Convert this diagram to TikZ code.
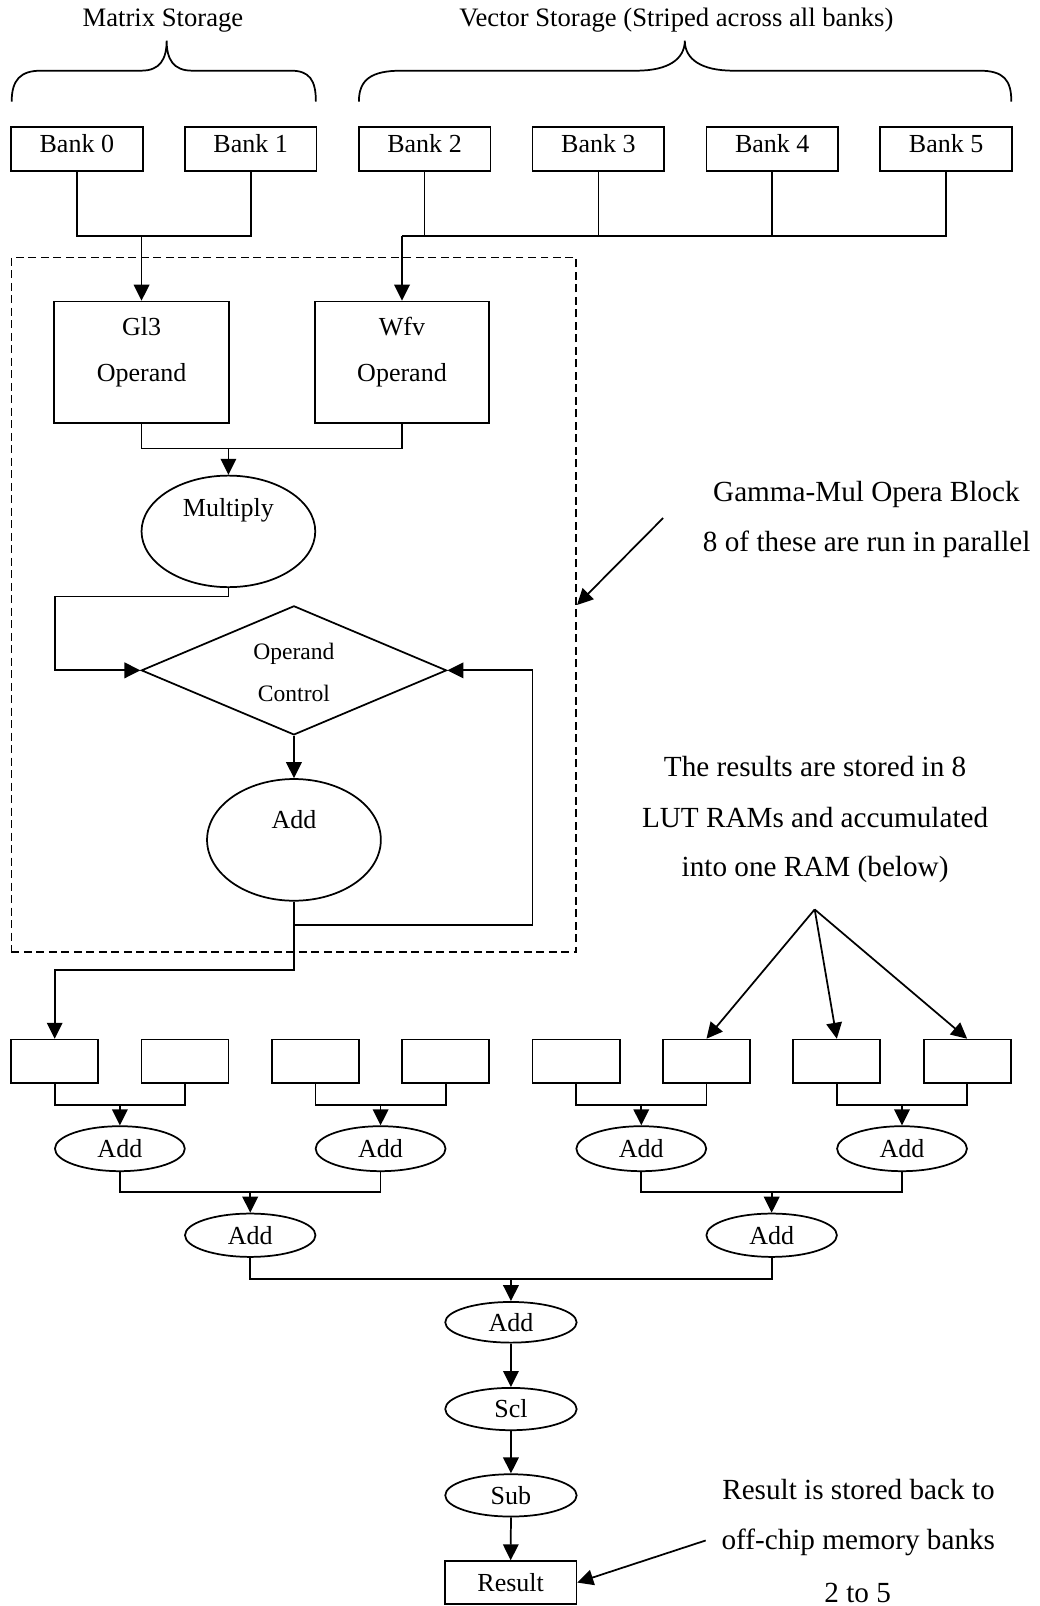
\documentclass[tikz,border=0pt]{standalone}
\usepackage{fontspec}
\setmainfont{Liberation Serif}
\usetikzlibrary{shapes.geometric,arrows.meta}
\newcommand\labfont{\fontsize{12.7}{15}\selectfont}
\newcommand\notefont{\fontsize{14.25}{17}\selectfont}
\newcommand\ctlfont{\fontsize{11.5}{14}\selectfont}
\newcommand\topfont{\fontsize{13}{15}\selectfont}

\begin{document}
\begin{tikzpicture}[x=0.5pt,y=-0.5pt,
  wire/.style={line width=0.85pt},
  arr/.style={wire,-{Triangle[length=7.8pt,width=7.6pt]}},
  blk/.style={draw,wire,rectangle,inner sep=0pt},
  bankbox/.style={blk,minimum width=64.3pt,minimum height=21.65pt},
  cell/.style={blk,minimum width=42.5pt,minimum height=21.15pt},
  oval/.style={draw,wire,ellipse,inner sep=0pt,font=\labfont},
  lbl/.style={inner sep=0pt,anchor=base,font=\labfont},
  note/.style={inner sep=0pt,anchor=base,font=\notefont},
]
\useasboundingbox (0,0) rectangle (1015,1568);

% ---------- storage banks ----------
\node[lbl,font=\topfont] (mst) at (159.1,26) {Matrix Storage};
\node[lbl,font=\topfont] (vst) at (660.3,26) {Vector Storage (Striped across all banks)};

\draw[wire] (11.4,99.2) .. controls (11.4,78) and (20,69) .. (40,69) -- (138,69)
  .. controls (156,69) and (162.7,58) .. (162.7,39.7)
  .. controls (162.7,58) and (169.4,69) .. (187.4,69) -- (284,69)
  .. controls (302,69) and (308.4,78) .. (308.4,99.2);
\draw[wire] (350.4,99.2) .. controls (350.4,78) and (362,69) .. (392,69) -- (621.5,69)
  .. controls (652,69) and (668.6,58) .. (668.6,39.7)
  .. controls (668.6,58) and (685,69) .. (715.7,69) -- (956,69)
  .. controls (980,69) and (987.4,78) .. (987.4,99.2);

\foreach \i in {0,...,5} {
  \node[bankbox] (b\i) at ({75+169.75*\i},145.3) {};
  \node[lbl] (bt\i) at ({75+169.75*\i},149) {Bank \i};
}

% ---------- Gamma-Mul operation block ----------
\node[draw,wire,dash pattern=on 3.9pt off 2.2pt,inner sep=0pt,
      minimum width=275.65pt,minimum height=339.15pt] (gblock) at (286.85,590.65) {};

\node[blk,minimum width=85.2pt,minimum height=59.4pt] (gl3) at (138.2,353.8) {};
\node[lbl] (gl3a) at (138.2,328) {Gl3};
\node[lbl] (gl3b) at (138.2,372.5) {Operand};
\node[blk,minimum width=85.2pt,minimum height=59.4pt] (wfv) at (392.5,353.8) {};
\node[lbl] (wfva) at (392.5,328) {Wfv};
\node[lbl] (wfvb) at (392.5,372.5) {Operand};

\node[oval,minimum width=84.8pt,minimum height=54.45pt] (mul) at (223,518.8) {};
\node[lbl] (mult) at (223,504.3) {Multiply};

\node[draw,wire,diamond,inner sep=0pt,minimum width=149pt,minimum height=63pt] (oc) at (287,654.5) {};
\node[lbl,font=\ctlfont] (oca) at (287,643.5) {Operand};
\node[lbl,font=\ctlfont] (ocb) at (287,684.8) {Control};

\node[oval,minimum width=84.85pt,minimum height=59.4pt] (add) at (287,820) {};
\node[lbl] (addt) at (287,808.4) {Add};

% bank buses
\coordinate (ylev) at (0,230.3);
\coordinate (mjoin) at (gl3.north |- ylev);
\coordinate (vjoin) at (wfv.north |- ylev);
\draw[wire] (b0.south) |- (mjoin) -| (b1.south);
\draw[arr] (mjoin) -- (gl3.north);
\draw[wire] (vjoin) -| (b5.south);
\foreach \i in {2,3,4} \draw[wire] (b\i.south) -- (b\i.south |- ylev);
\draw[arr] (vjoin) -- (wfv.north);

% block internals
\coordinate (oplev) at (0,438);
\coordinate (opj) at (mul.north |- oplev);
\draw[wire] (gl3.south) |- (opj) -| (wfv.south);
\draw[arr] (opj) -- (mul.north);
\coordinate (mulbend) at (53.4,582.4);
\draw[arr] (mul.south) |- (mulbend) |- (oc.west);
\draw[arr] (oc.south) -- (add.north);
\coordinate (fbk) at (520,903.4);
\draw[arr] (add.south) |- (fbk) |- (oc.east);

\node[note] (g1) at (845.9,489.3) {Gamma-Mul Opera Block};
\node[note] (g2) at (846.2,538.6) {8 of these are run in parallel};
\coordinate (gsrc) at (647.4,505.8);
\draw[arr] (gsrc) -- (gblock.east);

% ---------- LUT RAMs and adder tree ----------
\foreach \i in {1,...,8} \node[cell] (s\i) at ({53.4+127.27*(\i-1)},1036.15) {};

\coordinate (outlev) at (0,946.7);
\coordinate (outc) at (s1.north |- outlev);
\draw[arr] (add.south) |- (outc) -- (s1.north);

\node[note] (r1) at (795.8,758.2) {The results are stored in 8};
\node[note] (r2) at (795.8,808.3) {LUT RAMs and accumulated};
\node[note] (r3) at (795.8,856.1) {into one RAM (below)};
\coordinate (rsrc) at (795.4,887.9);
\foreach \i in {6,7,8} \draw[arr] (rsrc) -- (s\i.north);

\coordinate (l1lev) at (0,1078.5);
\foreach \j/\x/\a/\b in {1/117.04/1/2, 2/371.58/3/4, 3/626.12/5/6, 4/880.66/7/8} {
  \node[oval,minimum width=63.4pt,minimum height=21.95pt] (p\j) at (\x,1121.5) {Add};
  \coordinate (q\j) at (p\j.north |- l1lev);
  \draw[wire] (s\a.south) |- (q\j) -| (s\b.south);
  \draw[arr] (q\j) -- (p\j.north);
}

\coordinate (l2lev) at (0,1163.7);
\foreach \j/\x/\a/\b in {1/244.31/1/2, 2/753.39/3/4} {
  \node[oval,minimum width=63.7pt,minimum height=21.15pt] (t\j) at (\x,1206) {Add};
  \coordinate (u\j) at (t\j.north |- l2lev);
  \draw[wire] (p\a.south) |- (u\j) -| (p\b.south);
  \draw[arr] (u\j) -- (t\j.north);
}

\node[oval,minimum width=64.15pt,minimum height=19.85pt] (fadd) at (498.85,1291) {Add};
\coordinate (l3lev) at (0,1248.6);
\coordinate (w1) at (fadd.north |- l3lev);
\draw[wire] (t1.south) |- (w1) -| (t2.south);
\draw[arr] (w1) -- (fadd.north);

\node[oval,minimum width=64.15pt,minimum height=20.65pt] (scl) at (498.85,1375.7) {Scl};
\node[oval,minimum width=64.15pt,minimum height=20.65pt] (sub) at (498.85,1460) {Sub};
\node[blk,font=\labfont,minimum width=64.15pt,minimum height=20.9pt] (res) at (498.6,1545.1) {Result};
\draw[arr] (fadd.south) -- (scl.north);
\draw[arr] (scl.south) -- (sub.north);
\draw[arr] (sub.south) -- (res.north);

\node[note] (f1) at (838.2,1464) {Result is stored back to};
\node[note] (f2) at (838,1512.8) {off-chip memory banks};
\node[note] (f3) at (837.4,1564.2) {2 to 5};
\coordinate (fsrc) at (689,1504);
\draw[arr] (fsrc) -- (res.east);
\end{tikzpicture}
\end{document}
